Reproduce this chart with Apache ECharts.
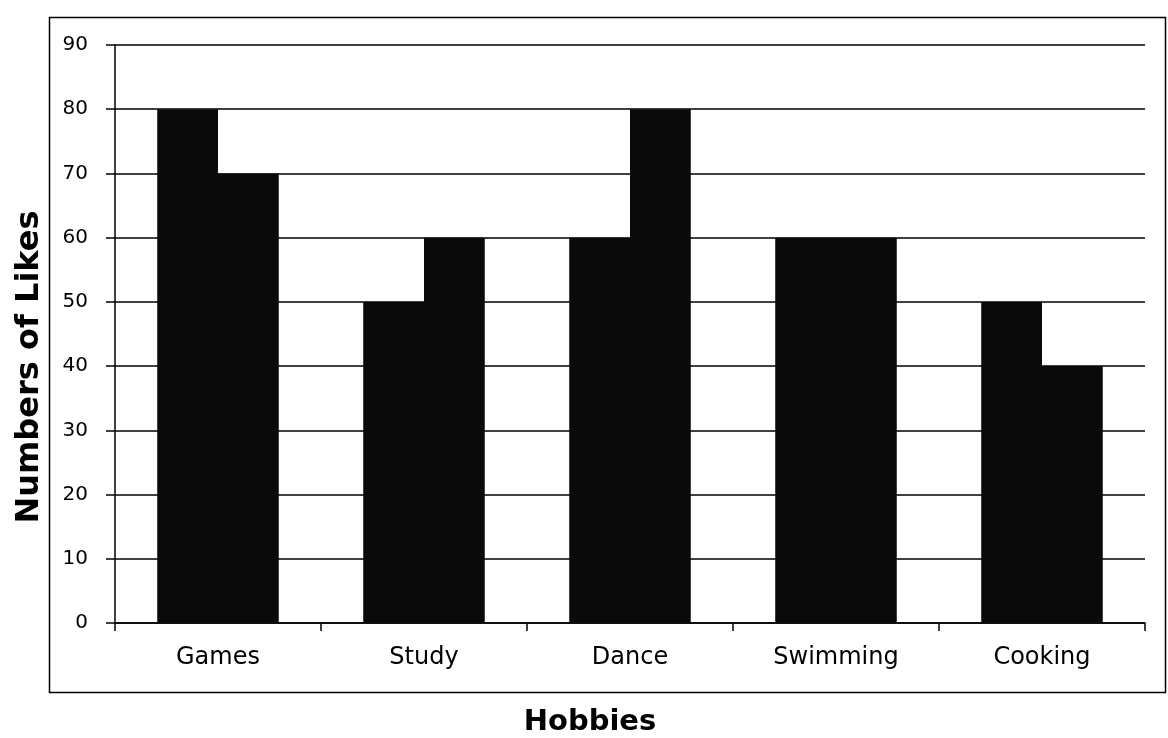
<!DOCTYPE html>
<html><head><meta charset="utf-8">
<script src="https://cdn.jsdelivr.net/npm/echarts@6/dist/echarts.min.js"></script>
<style>html,body{margin:0;padding:0;background:#fff}#c{width:1168px;height:738px}</style>
</head><body><div id="c"></div>
<script>
const categories = ['Games', 'Study', 'Dance', 'Swimming', 'Cooking'];
const seriesA = [80, 50, 60, 60, 50];
const seriesB = [70, 60, 80, 60, 40];
const yTicks = [0, 10, 20, 30, 40, 50, 60, 70, 80, 90];
const xTitle = 'Hobbies';
const yTitle = 'Numbers of Likes';

const chart = echarts.init(document.getElementById('c'), null, {renderer: 'canvas'});
const barStyle = {color: '#0a0a0a', borderWidth: 0};
chart.setOption({
  backgroundColor: '#fff',
  animation: false,
  textStyle: {fontFamily: 'DejaVu Sans'},
  graphic: [
    {
      type: 'rect', left: 47, top: 15, silent: true,
      shape: {width: 1116, height: 675},
      style: {fill: 'none', stroke: '#000', lineWidth: 1.5}
    },
    {
      type: 'text', x: 590, y: 722, silent: true,
      style: {text: xTitle, fontSize: 29, fontWeight: 'bold', fill: '#000',
              fontFamily: 'DejaVu Sans', align: 'center', verticalAlign: 'middle'}
    },
    {
      type: 'text', x: 30, y: 367, rotation: Math.PI / 2, silent: true,
      style: {text: yTitle, fontSize: 32, fontWeight: 'bold', fill: '#000',
              fontFamily: 'DejaVu Sans', align: 'center', verticalAlign: 'middle'}
    }
  ],
  grid: {left: 115, right: 23, top: 45, bottom: 115, containLabel: false, outerBoundsMode: 'none'},
  xAxis: {
    type: 'category', data: categories,
    axisLine: {show: true, lineStyle: {color: '#000', width: 1.5}},
    axisTick: {show: true, length: 8, alignWithLabel: false, lineStyle: {color: '#000', width: 1.5}},
    axisLabel: {fontSize: 24, color: '#000', margin: 23, fontFamily: 'DejaVu Sans'}
  },
  yAxis: {
    type: 'value', min: yTicks[0], max: yTicks[yTicks.length - 1], interval: 10,
    axisLine: {show: true, lineStyle: {color: '#000', width: 1.5}},
    axisTick: {show: true, length: 9, lineStyle: {color: '#000', width: 1.5}},
    axisLabel: {fontSize: 20, color: '#000', margin: 27, fontFamily: 'DejaVu Sans'},
    splitLine: {show: true, lineStyle: {color: '#000', width: 1.5}}
  },
  series: [
    {type: 'bar', data: seriesA, barGap: '0%', barCategoryGap: '41%', itemStyle: barStyle},
    {type: 'bar', data: seriesB, barGap: '0%', barCategoryGap: '41%', itemStyle: barStyle}
  ]
});
</script></body></html>
